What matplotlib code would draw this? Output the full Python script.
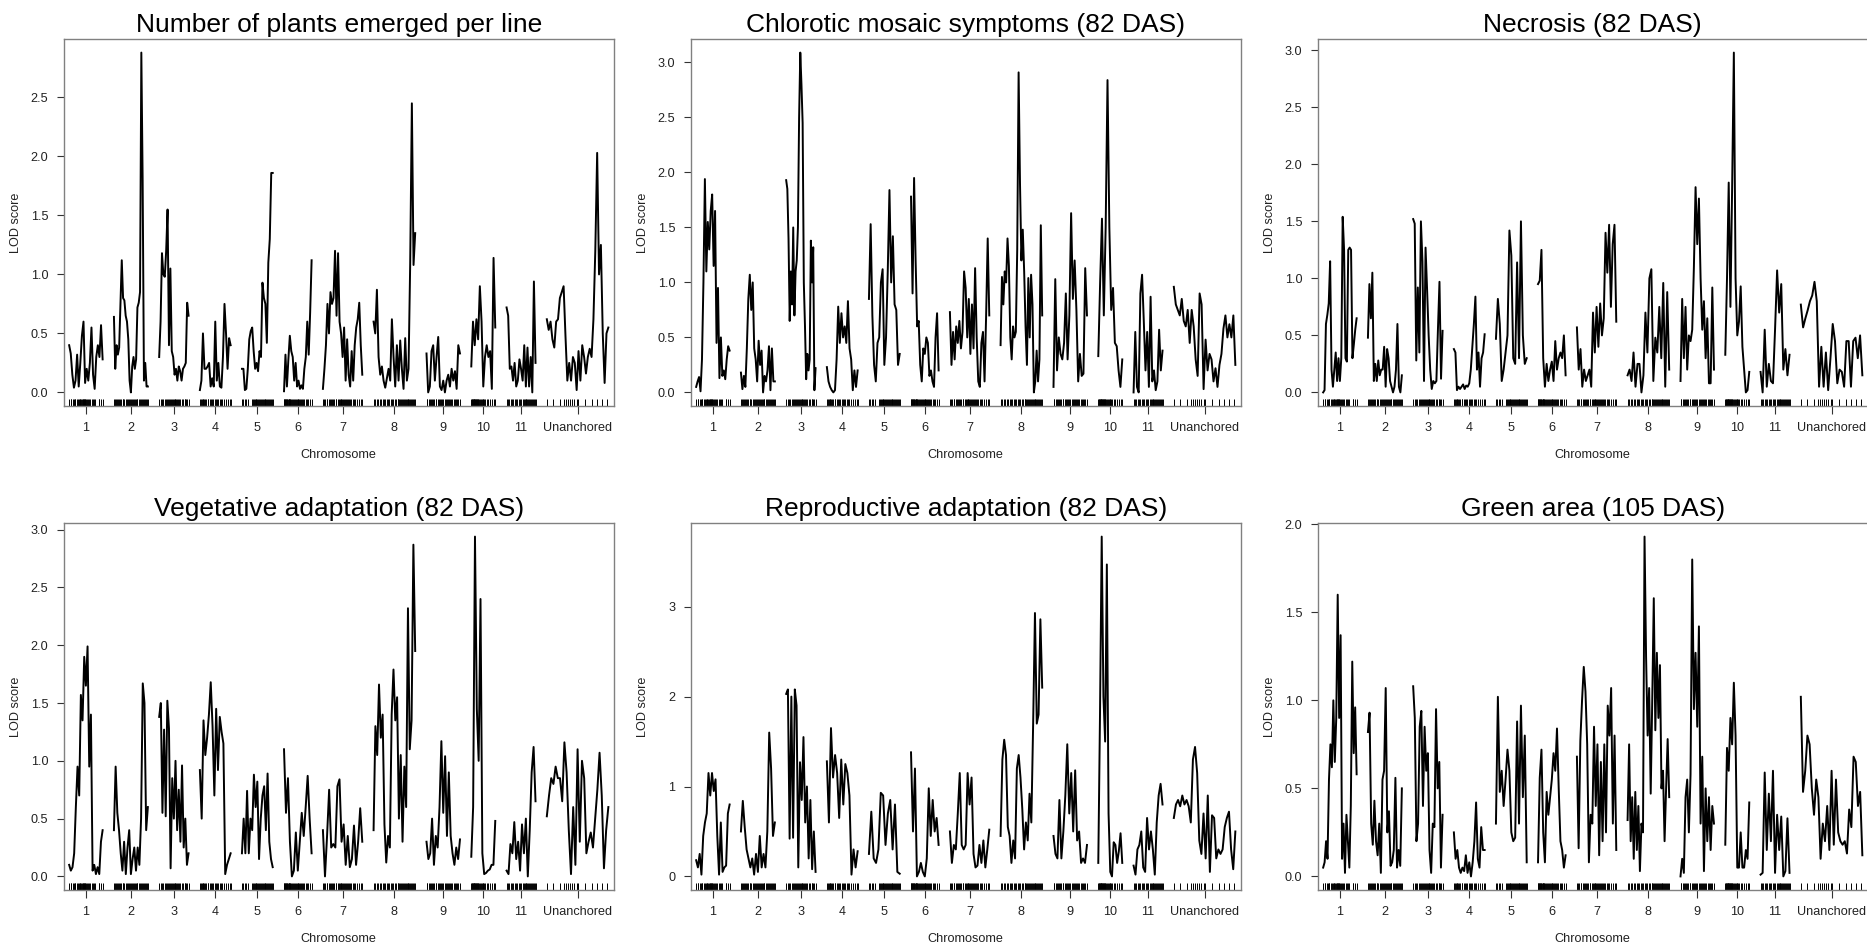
import numpy as np
import matplotlib
matplotlib.use('Agg')
import matplotlib.pyplot as plt
import matplotlib.transforms as mtransforms
from matplotlib.ticker import MultipleLocator, FormatStrFormatter

plt.rcParams['font.family'] = ['Liberation Sans', 'DejaVu Sans']

# ---------------- genetic map ----------------
chromosomes = ['1', '2', '3', '4', '5', '6', '7', '8', '9', '10', '11', 'Unanchored']
chrom_lengths = [74, 75, 65, 68, 68, 61, 87, 92, 74, 53, 64, 136]
gap = 25

markers_1 = [0, 3, 5, 8, 10, 12, 14, 17, 19, 21, 23, 25, 27, 29, 30, 31, 32, 33, 34, 35, 37, 39, 41, 44, 47, 50, 53, 56, 58, 65, 67, 71, 74]
markers_2 = [0, 2, 4, 7, 9, 11, 14, 16, 19, 21, 23, 26, 29, 31, 33, 35, 37, 40, 42, 44, 46, 48, 50, 52, 55, 57, 59, 62, 64, 66, 69, 71, 73, 75]
markers_3 = [0, 3, 6, 9, 13, 16, 18, 20, 22, 24, 26, 28, 30, 32, 34, 36, 38, 40, 42, 44, 47, 50, 53, 56, 58, 60, 62, 65]
markers_4 = [0, 2, 4, 6, 8, 10, 12, 14, 17, 19, 22, 25, 27, 30, 33, 36, 38, 41, 44, 47, 50, 53, 58, 63, 66, 68]
markers_5 = [0, 3, 7, 10, 14, 22, 24, 26, 28, 30, 32, 34, 36, 38, 40, 42, 44, 46, 48, 50, 52, 54, 56, 58, 60, 62, 64, 66, 68]
markers_6 = [0, 1, 2, 3, 4, 5, 6, 7, 8, 10, 11, 12, 13, 14, 16, 18, 20, 22, 24, 26, 28, 30, 32, 34, 36, 38, 40, 42, 45, 48, 51, 54, 57, 61]
markers_7 = [0, 3, 5, 8, 10, 13, 15, 18, 20, 23, 25, 28, 30, 33, 35, 37, 39, 41, 43, 45, 47, 49, 51, 53, 55, 57, 60, 63, 66, 69, 72, 76, 80, 84, 87]
markers_8 = [0, 4, 7, 10, 14, 17, 20, 23, 26, 29, 32, 35, 38, 41, 44, 47, 50, 53, 55, 57, 59, 61, 63, 65, 67, 69, 71, 73, 75, 77, 79, 81, 83, 85, 87, 89, 92]
markers_9 = [0, 2, 5, 7, 10, 12, 15, 17, 20, 22, 25, 27, 30, 32, 35, 37, 40, 42, 45, 47, 50, 52, 55, 57, 60, 62, 65, 67, 70, 74]
markers_10 = [0, 1, 2, 3, 4, 5, 6, 7, 8, 9, 10, 11, 12, 13, 14, 15, 17, 19, 21, 23, 25, 27, 29, 31, 34, 38, 42, 46, 50, 53]
markers_11 = [0, 3, 6, 9, 12, 15, 18, 21, 24, 27, 30, 33, 36, 38, 40, 42, 44, 46, 48, 50, 52, 54, 56, 58, 60, 62, 64]
markers_un = [0, 13, 29, 37, 42, 46, 51, 55, 60, 66, 70, 85, 99, 110, 121, 132]
markers = [markers_1, markers_2, markers_3, markers_4, markers_5, markers_6,
           markers_7, markers_8, markers_9, markers_10, markers_11, markers_un]

# ---------------- LOD profiles (one list per chromosome) ----------------
lod_emerged = [
    [0.40, 0.33, 0.15, 0.04, 0.10, 0.32, 0.05, 0.25, 0.48, 0.60, 0.08, 0.20, 0.10, 0.25, 0.55, 0.15, 0.03, 0.30, 0.40, 0.30, 0.57, 0.28],
    [0.64, 0.20, 0.40, 0.32, 0.38, 0.75, 1.12, 0.80, 0.78, 0.65, 0.60, 0.45, 0.10, 0.00, 0.22, 0.30, 0.20, 0.28, 0.72, 0.76, 0.85, 2.88, 1.80, 0.10, 0.25, 0.05, 0.05],
    [0.30, 0.60, 1.18, 1.00, 0.98, 1.20, 1.55, 0.40, 1.05, 0.35, 0.30, 0.15, 0.20, 0.10, 0.22, 0.18, 0.10, 0.20, 0.22, 0.25, 0.76, 0.65],
    [0.02, 0.10, 0.50, 0.20, 0.20, 0.22, 0.25, 0.05, 0.12, 0.05, 0.60, 0.10, 0.25, 0.05, 0.04, 0.30, 0.75, 0.50, 0.20, 0.46, 0.40],
    [0.20, 0.20, 0.02, 0.03, 0.20, 0.45, 0.52, 0.55, 0.35, 0.20, 0.25, 0.18, 0.35, 0.30, 0.93, 0.80, 0.75, 0.42, 1.10, 1.30, 1.86, 1.86],
    [0.01, 0.32, 0.05, 0.28, 0.48, 0.35, 0.30, 0.10, 0.25, 0.05, 0.10, 0.03, 0.06, 0.03, 0.20, 0.30, 0.60, 0.32, 0.68, 1.12],
    [0.03, 0.20, 0.40, 0.75, 0.50, 0.85, 0.75, 0.80, 1.20, 0.65, 1.18, 0.60, 0.50, 0.30, 0.55, 0.10, 0.45, 0.15, 0.05, 0.35, 0.10, 0.40, 0.55, 0.62, 0.76, 0.40, 0.15],
    [0.60, 0.50, 0.87, 0.30, 0.15, 0.22, 0.10, 0.04, 0.12, 0.20, 0.10, 0.62, 0.30, 0.05, 0.40, 0.10, 0.44, 0.20, 0.03, 0.46, 0.10, 0.20, 1.10, 2.45, 1.08, 1.35],
    [0.33, 0.00, 0.05, 0.35, 0.40, 0.10, 0.30, 0.47, 0.05, 0.02, 0.10, 0.00, 0.10, 0.15, 0.05, 0.20, 0.10, 0.18, 0.03, 0.40, 0.33],
    [0.22, 0.60, 0.40, 0.62, 0.45, 0.90, 0.60, 0.05, 0.30, 0.40, 0.30, 0.35, 0.03, 1.14, 0.55],
    [0.72, 0.65, 0.20, 0.22, 0.10, 0.25, 0.05, 0.10, 0.28, 0.20, 0.10, 0.40, 0.05, 0.38, 0.05, 0.30, 0.00, 0.94, 0.25],
    [0.62, 0.53, 0.60, 0.45, 0.38, 0.60, 0.62, 0.80, 0.85, 0.90, 0.48, 0.10, 0.25, 0.10, 0.30, 0.25, 0.02, 0.35, 0.10, 0.40, 0.30, 0.16, 0.30, 0.37, 0.30, 0.62, 1.20, 2.03, 1.00, 1.25, 0.50, 0.08, 0.50, 0.55],
]

lod_chlorotic = [
    [0.05, 0.10, 0.14, 0.01, 0.30, 1.00, 1.94, 1.10, 1.55, 1.30, 1.65, 1.80, 1.15, 1.65, 0.45, 0.95, 0.13, 0.50, 0.15, 0.20, 0.12, 0.30, 0.42, 0.38],
    [0.18, 0.03, 0.15, 0.05, 0.40, 0.85, 1.07, 0.75, 1.00, 0.40, 0.30, 0.10, 0.47, 0.25, 0.38, 0.00, 0.15, 0.10, 0.20, 0.42, 0.02, 0.40, 0.10, 0.10],
    [1.93, 1.85, 1.40, 0.65, 1.10, 0.80, 1.50, 0.70, 1.10, 1.20, 1.50, 2.50, 3.09, 2.80, 2.45, 1.00, 0.60, 0.12, 0.35, 0.20, 0.30, 1.38, 1.00, 1.32, 0.02, 0.22],
    [0.23, 0.10, 0.05, 0.02, 0.00, 0.02, 0.30, 0.78, 0.45, 0.72, 0.50, 0.60, 0.45, 0.83, 0.40, 0.30, 0.02, 0.20, 0.05, 0.20],
    [0.85, 1.53, 0.70, 0.25, 0.10, 0.45, 0.50, 1.00, 1.12, 0.25, 0.50, 1.10, 1.84, 1.00, 1.42, 0.80, 0.75, 0.25, 0.35],
    [1.78, 0.90, 1.95, 1.20, 0.60, 0.65, 0.25, 0.10, 0.40, 0.35, 0.50, 0.45, 0.15, 0.20, 0.10, 0.05, 0.50, 0.72, 0.20],
    [0.73, 0.25, 0.55, 0.30, 0.60, 0.45, 0.65, 0.40, 0.55, 1.10, 0.95, 0.50, 0.85, 0.35, 0.80, 0.40, 1.13, 0.50, 0.10, 0.05, 0.45, 0.55, 0.10, 0.70, 1.40, 0.70],
    [0.43, 1.05, 0.80, 1.10, 1.00, 1.40, 1.15, 0.50, 0.30, 0.60, 0.50, 0.55, 1.30, 2.91, 1.90, 1.20, 1.48, 1.10, 0.60, 0.25, 1.04, 0.50, 1.07, 0.80, 0.00, 0.10, 0.38, 0.10, 0.30, 1.52, 0.70],
    [0.05, 1.03, 0.20, 0.50, 0.35, 0.30, 0.45, 0.90, 0.30, 0.70, 1.63, 0.85, 1.20, 0.75, 0.10, 0.35, 0.15, 0.17, 1.13, 0.70],
    [0.33, 1.00, 1.58, 0.70, 1.50, 2.84, 1.50, 0.75, 0.95, 0.45, 0.42, 0.20, 0.05, 0.30],
    [0.00, 0.55, 0.05, 0.00, 0.90, 1.07, 0.65, 0.20, 0.55, 0.05, 0.87, 0.10, 0.20, 0.02, 0.10, 0.57, 0.20, 0.38],
    [0.96, 0.80, 0.75, 0.70, 0.85, 0.65, 0.60, 0.75, 0.45, 0.75, 0.60, 0.30, 0.15, 0.90, 0.80, 0.03, 0.48, 0.20, 0.35, 0.30, 0.10, 0.22, 0.05, 0.25, 0.35, 0.58, 0.70, 0.50, 0.62, 0.50, 0.70, 0.25],
]

lod_necrosis = [
    [0.00, 0.02, 0.60, 0.68, 0.78, 1.15, 0.20, 0.05, 0.20, 0.35, 0.10, 0.30, 0.10, 0.30, 1.54, 1.25, 0.30, 0.27, 1.25, 1.27, 1.25, 0.30, 0.42, 0.55, 0.65],
    [0.48, 0.95, 0.65, 1.05, 0.10, 0.25, 0.10, 0.28, 0.15, 0.20, 0.20, 0.40, 0.05, 0.38, 0.30, 0.10, 0.05, 0.00, 0.05, 0.20, 0.60, 0.05, 0.00, 0.15],
    [1.52, 1.48, 0.28, 0.92, 0.35, 1.50, 1.15, 0.10, 1.27, 0.90, 0.50, 0.20, 0.03, 0.10, 0.08, 0.10, 0.55, 0.97, 0.12, 0.54],
    [0.38, 0.35, 0.02, 0.05, 0.03, 0.05, 0.07, 0.03, 0.06, 0.05, 0.08, 0.20, 0.40, 0.60, 0.84, 0.20, 0.35, 0.05, 0.30, 0.35, 0.51],
    [0.47, 0.82, 0.60, 0.10, 0.20, 0.35, 0.50, 1.42, 1.20, 0.30, 0.25, 1.14, 0.30, 1.50, 0.50, 0.25, 0.30],
    [0.95, 0.98, 1.25, 0.30, 0.05, 0.25, 0.10, 0.20, 0.27, 0.10, 0.45, 0.20, 0.30, 0.35, 0.30, 0.50, 0.15],
    [0.57, 0.20, 0.38, 0.05, 0.20, 0.10, 0.15, 0.20, 0.05, 0.70, 0.35, 0.75, 0.40, 0.78, 0.50, 0.65, 1.40, 1.05, 1.47, 0.75, 1.30, 1.47, 0.62],
    [0.15, 0.20, 0.10, 0.35, 0.05, 0.25, 0.25, 0.00, 0.15, 0.70, 0.35, 1.00, 1.08, 0.10, 0.48, 0.35, 0.75, 0.30, 0.96, 0.05, 0.88, 0.20],
    [0.10, 0.82, 0.30, 0.75, 0.20, 0.50, 0.45, 0.55, 1.10, 1.80, 1.30, 1.70, 1.00, 0.55, 0.80, 0.30, 0.65, 0.08, 0.08, 0.92, 0.20],
    [0.33, 1.00, 1.84, 0.75, 1.80, 2.98, 1.00, 0.50, 0.62, 0.93, 0.40, 0.20, 0.00, 0.02, 0.18],
    [0.18, 0.00, 0.55, 0.05, 0.25, 0.10, 0.08, 0.55, 1.07, 0.70, 0.95, 0.20, 0.38, 0.15, 0.33],
    [0.77, 0.57, 0.65, 0.72, 0.80, 0.85, 0.97, 0.80, 0.05, 0.40, 0.05, 0.35, 0.02, 0.30, 0.60, 0.45, 0.08, 0.20, 0.18, 0.05, 0.45, 0.45, 0.05, 0.45, 0.48, 0.30, 0.50, 0.15],
]

lod_vegetative = [
    [0.10, 0.05, 0.08, 0.20, 0.60, 0.95, 0.70, 1.57, 1.35, 1.90, 1.65, 1.99, 0.95, 1.40, 0.05, 0.10, 0.02, 0.08, 0.02, 0.30, 0.40],
    [0.40, 0.95, 0.55, 0.40, 0.20, 0.05, 0.30, 0.02, 0.25, 0.40, 0.02, 0.15, 0.25, 0.05, 0.25, 0.10, 0.50, 1.67, 1.50, 0.40, 0.60],
    [1.38, 1.50, 0.55, 1.27, 0.52, 1.52, 1.28, 0.07, 0.85, 0.50, 1.00, 0.40, 0.75, 0.30, 0.96, 0.25, 0.50, 0.10, 0.20],
    [0.92, 0.50, 1.35, 1.05, 1.20, 1.40, 1.68, 1.30, 0.70, 1.45, 0.92, 1.38, 1.25, 1.15, 0.02, 0.10, 0.15, 0.20],
    [0.20, 0.50, 0.20, 0.74, 0.20, 0.50, 0.40, 0.88, 0.60, 0.82, 0.15, 0.50, 0.70, 0.78, 0.40, 0.89, 0.30, 0.15, 0.08],
    [1.10, 0.55, 0.85, 0.30, 0.00, 0.05, 0.38, 0.05, 0.30, 0.55, 0.35, 0.60, 0.87, 0.50, 0.20],
    [0.40, 0.00, 0.35, 0.75, 0.25, 0.28, 0.25, 0.78, 0.84, 0.30, 0.45, 0.10, 0.35, 0.08, 0.15, 0.44, 0.10, 0.30, 0.59, 0.30],
    [0.40, 1.30, 1.05, 1.66, 1.20, 1.40, 0.45, 0.12, 0.35, 0.25, 1.40, 1.79, 1.35, 1.55, 0.50, 1.05, 0.30, 0.95, 0.60, 2.32, 1.10, 1.35, 2.87, 1.95],
    [0.30, 0.15, 0.20, 0.50, 0.10, 0.35, 0.25, 0.60, 1.17, 0.55, 1.04, 0.35, 0.90, 0.35, 0.20, 0.10, 0.25, 0.15, 0.32],
    [0.17, 0.60, 2.94, 1.45, 1.00, 2.40, 0.20, 0.02, 0.03, 0.05, 0.06, 0.10, 0.10, 0.48],
    [0.05, 0.02, 0.28, 0.20, 0.47, 0.15, 0.30, 0.05, 0.45, 0.20, 0.50, 0.00, 0.40, 0.90, 1.12, 0.65],
    [0.52, 0.70, 0.85, 0.80, 0.95, 0.85, 0.85, 0.65, 1.16, 0.90, 0.40, 0.02, 0.60, 0.10, 1.10, 0.30, 1.00, 0.85, 0.20, 0.30, 0.38, 0.25, 0.50, 0.75, 1.07, 0.70, 0.07, 0.40, 0.60],
]

lod_reproductive = [
    [0.18, 0.10, 0.25, 0.02, 0.45, 0.60, 0.70, 1.15, 0.90, 1.15, 0.95, 1.08, 0.45, 0.02, 0.60, 0.05, 0.10, 0.12, 0.70, 0.80],
    [0.50, 0.84, 0.55, 0.30, 0.20, 0.10, 0.20, 0.02, 0.25, 0.05, 0.45, 0.10, 0.25, 0.10, 0.50, 1.60, 1.20, 0.45, 0.60],
    [2.03, 2.08, 0.42, 2.00, 0.43, 2.08, 1.90, 0.10, 1.27, 0.85, 1.55, 0.60, 1.00, 0.20, 0.85, 0.08, 0.50, 0.05],
    [1.28, 0.60, 1.65, 1.10, 1.35, 1.15, 0.65, 1.30, 0.80, 1.25, 1.15, 0.90, 0.02, 0.30, 0.10, 0.28],
    [0.25, 0.72, 0.20, 0.15, 0.30, 0.93, 0.90, 0.35, 0.70, 0.85, 0.30, 0.80, 0.05, 0.03],
    [1.38, 0.50, 1.20, 0.00, 0.05, 0.15, 0.05, 0.00, 0.20, 0.98, 0.45, 0.85, 0.50, 0.65, 0.35],
    [0.50, 0.15, 0.35, 0.30, 0.70, 1.15, 0.35, 0.30, 0.35, 1.15, 0.80, 1.10, 0.25, 0.10, 0.12, 0.35, 0.15, 0.40, 0.10, 0.30, 0.52],
    [0.45, 1.30, 1.52, 1.35, 0.55, 0.45, 0.15, 0.40, 0.20, 1.20, 1.35, 1.10, 0.75, 0.30, 0.60, 0.40, 0.92, 0.60, 1.70, 2.93, 1.70, 1.80, 2.86, 2.10],
    [0.45, 0.25, 0.20, 0.85, 0.20, 0.50, 0.90, 1.47, 0.70, 1.15, 0.50, 1.18, 0.40, 0.50, 0.15, 0.20, 0.15, 0.35],
    [0.15, 1.80, 3.78, 2.00, 1.50, 3.47, 0.70, 0.05, 0.00, 0.38, 0.35, 0.15, 0.28, 0.48, 0.15],
    [0.12, 0.02, 0.30, 0.35, 0.50, 0.10, 0.05, 0.65, 0.30, 0.50, 0.30, 0.02, 0.60, 0.90, 1.03, 0.80],
    [0.65, 0.80, 0.85, 0.78, 0.90, 0.80, 0.85, 0.78, 0.60, 1.30, 1.44, 1.15, 0.40, 0.25, 0.70, 0.20, 0.90, 0.05, 0.68, 0.65, 0.20, 0.30, 0.25, 0.30, 0.55, 0.65, 0.72, 0.30, 0.08, 0.50],
]

lod_green = [
    [0.05, 0.08, 0.20, 0.10, 0.55, 0.75, 0.62, 1.00, 0.65, 0.90, 1.60, 0.90, 1.37, 0.10, 0.30, 0.02, 0.35, 0.20, 0.05, 0.40, 1.22, 0.70, 0.96, 0.58],
    [0.82, 0.93, 0.30, 0.18, 0.43, 0.20, 0.12, 0.30, 0.02, 0.55, 0.60, 1.07, 0.25, 0.37, 0.06, 0.08, 0.15, 0.56, 0.05, 0.15, 0.06, 0.50],
    [1.08, 0.90, 0.20, 0.30, 0.85, 0.94, 0.40, 0.85, 0.60, 0.70, 0.15, 0.02, 0.30, 0.28, 0.95, 0.50, 0.65, 0.05, 0.35],
    [0.25, 0.10, 0.15, 0.05, 0.02, 0.05, 0.03, 0.12, 0.02, 0.08, 0.00, 0.08, 0.20, 0.42, 0.10, 0.05, 0.28, 0.15, 0.15],
    [0.30, 1.02, 0.48, 0.60, 0.40, 0.55, 0.72, 0.60, 0.25, 0.20, 0.22, 0.88, 0.30, 0.97, 0.45, 0.80, 0.08],
    [0.08, 0.56, 0.72, 0.25, 0.08, 0.48, 0.35, 0.45, 0.55, 0.70, 0.60, 0.84, 0.50, 0.20, 0.15, 0.05, 0.12],
    [0.68, 0.16, 0.77, 1.00, 1.19, 1.05, 0.75, 0.08, 0.35, 0.30, 0.85, 0.40, 0.75, 0.12, 0.65, 0.20, 0.75, 0.25, 0.97, 0.80, 1.07, 0.30, 0.80, 0.15],
    [0.32, 0.75, 0.20, 0.45, 0.10, 0.48, 0.15, 0.40, 0.03, 0.30, 0.25, 1.93, 1.25, 0.80, 1.07, 0.47, 1.00, 1.58, 0.83, 1.27, 0.90, 1.20, 0.50, 0.60, 0.20, 0.50, 0.78, 0.45],
    [0.00, 0.10, 0.02, 0.45, 0.55, 0.25, 0.58, 1.80, 0.95, 1.27, 0.85, 1.42, 0.30, 0.68, 0.03, 0.50, 0.20, 0.45, 0.15, 0.40, 0.30],
    [0.18, 0.73, 0.60, 0.90, 0.75, 1.10, 0.80, 0.05, 0.05, 0.25, 0.05, 0.05, 0.15, 0.10, 0.42],
    [0.01, 0.02, 0.59, 0.15, 0.47, 0.20, 0.60, 0.02, 0.35, 0.15, 0.34, 0.00, 0.03, 0.33, 0.02],
    [1.02, 0.48, 0.60, 0.80, 0.75, 0.50, 0.35, 0.55, 0.45, 0.10, 0.30, 0.20, 0.40, 0.15, 0.60, 0.18, 0.55, 0.25, 0.20, 0.18, 0.20, 0.13, 0.38, 0.28, 0.68, 0.65, 0.40, 0.48, 0.12],
]

titles = ['Number of plants emerged per line', 'Chlorotic mosaic symptoms (82 DAS)',
          'Necrosis (82 DAS)', 'Vegetative adaptation (82 DAS)',
          'Reproductive adaptation (82 DAS)', 'Green area (105 DAS)']
panels = [lod_emerged, lod_chlorotic, lod_necrosis, lod_vegetative, lod_reproductive, lod_green]
ytick_steps = [0.5, 0.5, 0.5, 0.5, 1.0, 0.5]
ytick_formats = ['%.1f', '%.1f', '%.1f', '%.1f', '%d', '%.1f']

# ---------------- layout ----------------
W, H = 1867, 948
fig = plt.figure(figsize=(W / 100, H / 100), dpi=100)
col_left = [63.5, 690.5, 1317.5]
ax_w = 550.5
row_top = [39, 523]
ax_h = 367

starts = []
pos = gap / 2
for L in chrom_lengths:
    starts.append(pos)
    pos += L + gap
xmax = pos - gap / 2
centers = [s + L / 2 for s, L in zip(starts, chrom_lengths)]

frame_col = '#808080'
for k, (lod, title) in enumerate(zip(panels, titles)):
    r, c = divmod(k, 3)
    ax = fig.add_axes([col_left[c] / W, 1 - (row_top[r] + ax_h) / H, ax_w / W, ax_h / H])
    for s, L, vals in zip(starts, chrom_lengths, lod):
        x = s + np.linspace(0, L, len(vals))
        ax.plot(x, vals, color='black', lw=1.4, solid_joinstyle='round', clip_on=False)
    M = max(max(v) for v in lod)
    ax.set_ylim(-0.04 * M, 1.04 * M)
    ax.set_xlim(0, xmax)
    trans = mtransforms.blended_transform_factory(ax.transData, ax.transAxes)
    for s, mk in zip(starts, markers):
        ax.vlines([s + m for m in mk], 0, 0.02, transform=trans, color='black', lw=0.7)

    ax.set_xticks(centers)
    ax.set_xticklabels(chromosomes, fontsize=9.1)
    ax.yaxis.set_major_locator(MultipleLocator(ytick_steps[k]))
    ax.yaxis.set_major_formatter(FormatStrFormatter(ytick_formats[k]))
    ax.tick_params(axis='x', direction='out', length=5.8, width=0.8, pad=6.0, colors='#333333', labelcolor='#222222')
    ax.tick_params(axis='y', direction='out', length=5.0, width=0.8, pad=6.0, colors='#333333', labelcolor='#222222', labelsize=9.1)
    for sp in ax.spines.values():
        sp.set_color(frame_col)
        sp.set_linewidth(1.0)

    ax.set_title(title, fontsize=19, pad=5)
    ax.set_ylabel('LOD score', fontsize=9.1, color='#222222')
    ax.yaxis.set_label_coords(-0.076, 0.5)
    ax.set_xlabel('Chromosome', fontsize=9.1, color='#222222')
    ax.xaxis.set_label_coords(0.5, -0.116)

fig.savefig('out.png', dpi=100)
